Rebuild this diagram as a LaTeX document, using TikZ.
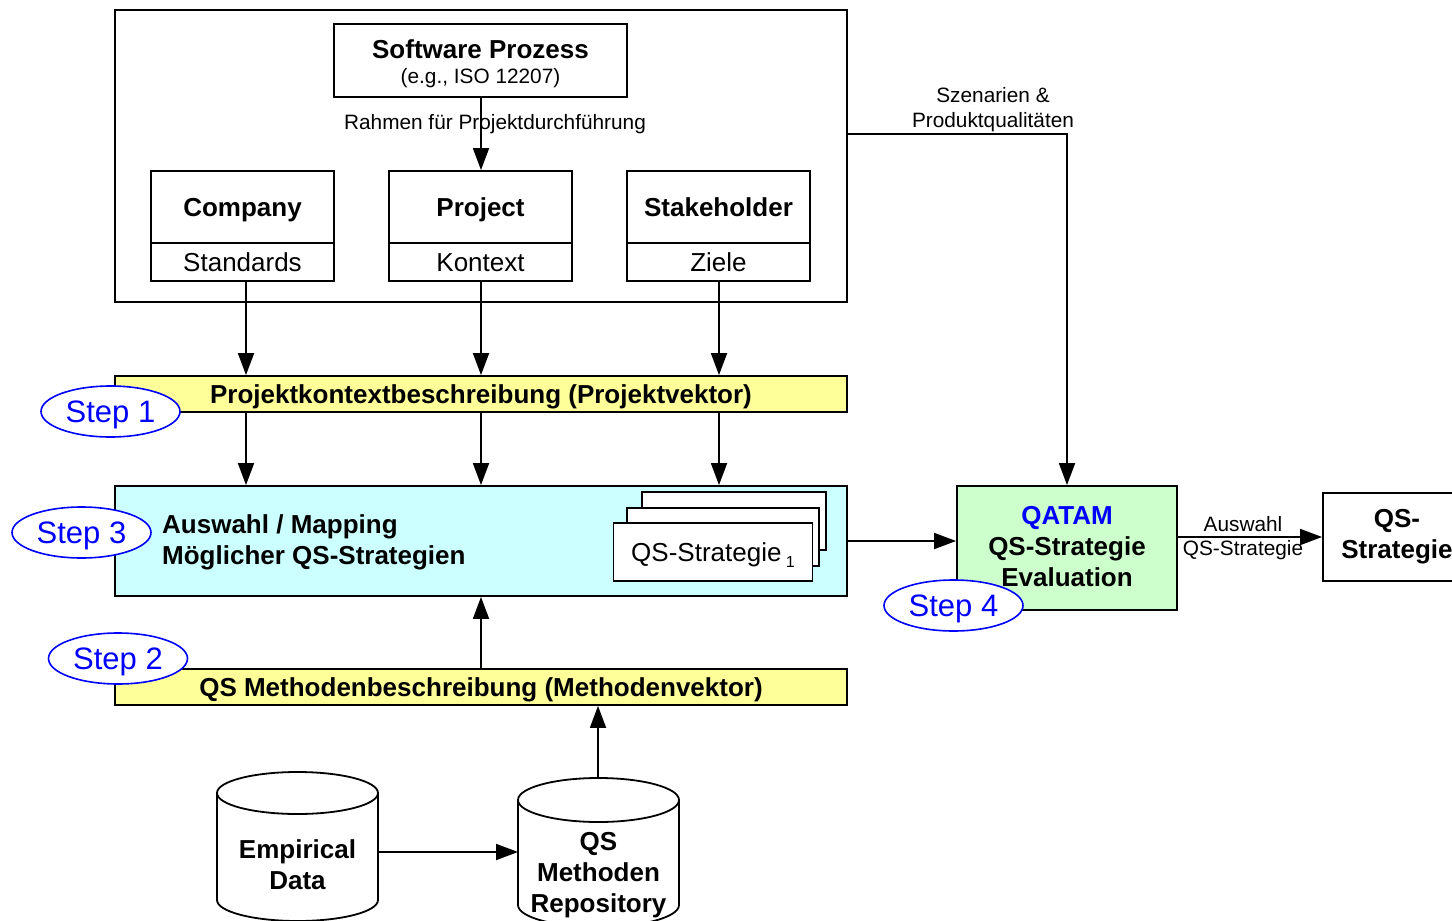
\documentclass[tikz,border=0pt]{standalone}
\usepackage{fontspec}
\setmainfont{Liberation Sans}
\usetikzlibrary{arrows.meta,shapes.geometric}
\definecolor{barYellow}{HTML}{FFFF99}
\definecolor{mapCyan}{HTML}{CCFFFF}
\definecolor{evalGreen}{HTML}{CCFFCC}
\definecolor{stepBlue}{HTML}{0000FF}
\newcommand\fsBig{\fontsize{26}{31}\selectfont}
\newcommand\fsSmall{\fontsize{20.8}{25}\selectfont}
\newcommand\fsStep{\fontsize{31}{34}\selectfont}
\begin{document}
\begin{tikzpicture}[x=1pt,y=-1pt,
  rect/.style={draw, line width=1.8pt, inner sep=0pt, align=center},
  oneline/.style={text height=18.7pt, text depth=0pt},
  arr/.style={-{Triangle[length=22pt,width=16pt]}, line width=1.8pt},
  conn/.style={line width=1.8pt},
  stepmark/.style={ellipse, draw=stepBlue, fill=white, line width=1.6pt,
    text=stepBlue, inner sep=0pt, minimum width=139pt, minimum height=51pt,
    font=\fsStep, text height=22pt, text depth=0pt},
  lbl/.style={inner sep=0pt, align=center, font=\fsSmall}]
\useasboundingbox (0,0) rectangle (1452,921);
\clip (0,0) rectangle (1452,921);

% frame around the context sources
\node[rect, minimum width=732pt, minimum height=292pt] (frame) at (481,156) {};
\node[rect, minimum width=293pt, minimum height=73pt, font=\fontsize{20.8}{27}\selectfont] (sw) at (480.5,60.5)
  {\rule{0pt}{4pt}\\[-6pt]{\bfseries\fontsize{26}{27}\selectfont Software Prozess}\\[-2pt](e.g., ISO 12207)};

\node[rect, oneline, minimum width=183pt, minimum height=72pt, font=\bfseries\fsBig] (compA) at (242.5,207) {Company};
\node[rect, oneline, minimum width=183pt, minimum height=38pt, font=\fsBig] (compB) at (242.5,262) {Standards};
\node[rect, oneline, minimum width=183pt, minimum height=72pt, font=\bfseries\fsBig] (projA) at (480.5,207) {Project};
\node[rect, oneline, minimum width=183pt, minimum height=38pt, font=\fsBig] (projB) at (480.5,262) {Kontext};
\node[rect, oneline, minimum width=183pt, minimum height=72pt, font=\bfseries\fsBig] (stakeA) at (718.5,207) {Stakeholder};
\node[rect, oneline, minimum width=183pt, minimum height=38pt, font=\fsBig] (stakeB) at (718.5,262) {Ziele};

% connector anchor points on the lower boxes
\coordinate (cS) at ([xshift=3.5pt]compB.south);
\coordinate (pS) at ([xshift=0.5pt]projB.south);
\coordinate (zS) at ([xshift=0.5pt]stakeB.south);

\draw[arr] ([xshift=0.5pt]sw.south) -- ([xshift=0.5pt]projA.north);
\node[lbl] (rahmen) at (495,124) {Rahmen für Projektdurchführung};

% step 1: project vector
\node[rect, oneline, fill=barYellow, minimum width=732pt, minimum height=36pt, font=\bfseries\fsBig] (bar1) at (481,394)
  {Projektkontextbeschreibung (Projektvektor)};
\draw[arr] (cS) -- (cS |- bar1.north);
\draw[arr] (pS) -- (pS |- bar1.north);
\draw[arr] (zS) -- (zS |- bar1.north);

% step 3: mapping
\node[rect, fill=mapCyan, minimum width=732pt, minimum height=110pt] (cyan) at (481,541) {};
\node[inner sep=0pt, align=left, anchor=west, font=\bfseries\fsBig] (mapTxt) at (162,542)
  {Auswahl / Mapping\\Möglicher QS-Strategien};
\node[rect, fill=white, minimum width=184pt, minimum height=58pt] (s3) at (734,521) {};
\node[rect, fill=white, minimum width=192pt, minimum height=58pt] (s2) at (723,537) {};
\node[rect, oneline, fill=white, minimum width=199pt, minimum height=58pt, font=\fsBig] (s1) at (713,552)
  {QS-Strategie\,\raisebox{-0.45ex}{\fontsize{16}{16}\selectfont 1}};

\draw[arr] (cS |- bar1.south) -- (cS |- cyan.north);
\draw[arr] (bar1.south) -- (cyan.north);
\draw[arr] (zS |- bar1.south) -- (zS |- cyan.north);

% step 4: evaluation
\node[rect, fill=evalGreen, minimum width=220pt, minimum height=124pt, text width=220pt, font=\bfseries\fsBig] (green) at (1067,548)
  {\textcolor{stepBlue}{QATAM}\\QS-Strategie\\Evaluation\vspace*{2pt}};
\draw[arr] (cyan.east) -- (cyan.east -| green.west);
\draw[arr] ([yshift=22pt]frame.east) -| (green.north);
\node[lbl] (szen) at (993,110) {Szenarien \&\\Produktqualitäten};

\node[rect, minimum width=148pt, minimum height=88pt, font=\bfseries\fsBig] (res) at (1397,537)
  {QS-\\Strategie};
\draw[arr] (green.east |- res.west) -- (res.west);
\node[lbl, font=\fontsize{20.8}{24}\selectfont] (auswahl) at (1243,538) {Auswahl\\QS-Strategie};

% step 2: method vector
\node[rect, oneline, fill=barYellow, minimum width=732pt, minimum height=36pt, font=\bfseries\fsBig] (bar2) at (481,687)
  {QS Methodenbeschreibung (Methodenvektor)};
\draw[arr] (bar2.north) -- (cyan.south);

% data stores
\draw[conn, fill=white] (217,793) -- (217,900) arc[start angle=180, end angle=0, x radius=80.5, y radius=21] -- (378,793);
\draw[conn] (297.5,793) ellipse [x radius=80.5, y radius=21];
\node[inner sep=0pt, align=center, font=\bfseries\fsBig] (emp) at (297.5,865) {Empirical\\Data};

\draw[conn, fill=white] (518,800) -- (518,905) arc[start angle=180, end angle=0, x radius=80.5, y radius=22] -- (679,800);
\draw[conn] (598.5,800) ellipse [x radius=80.5, y radius=22];
\node[inner sep=0pt, align=center, font=\bfseries\fsBig] (repo) at (598.5,875) {QS\\Methoden\\Repository};

\coordinate (empR) at (378,852);
\coordinate (repoL) at (518,852);
\coordinate (repoTop) at (598,778);
\draw[arr] (empR) -- (repoL);
\draw[arr] (repoTop) -- (repoTop |- bar2.south);

% step markers
\node[stepmark] (st1) at (110.5,411.5) {Step 1};
\node[stepmark] (st3) at (81.5,532.5) {Step 3};
\node[stepmark] (st2) at (118,658.5) {Step 2};
\node[stepmark] (st4) at (953.5,605.5) {Step 4};
\end{tikzpicture}
\end{document}
